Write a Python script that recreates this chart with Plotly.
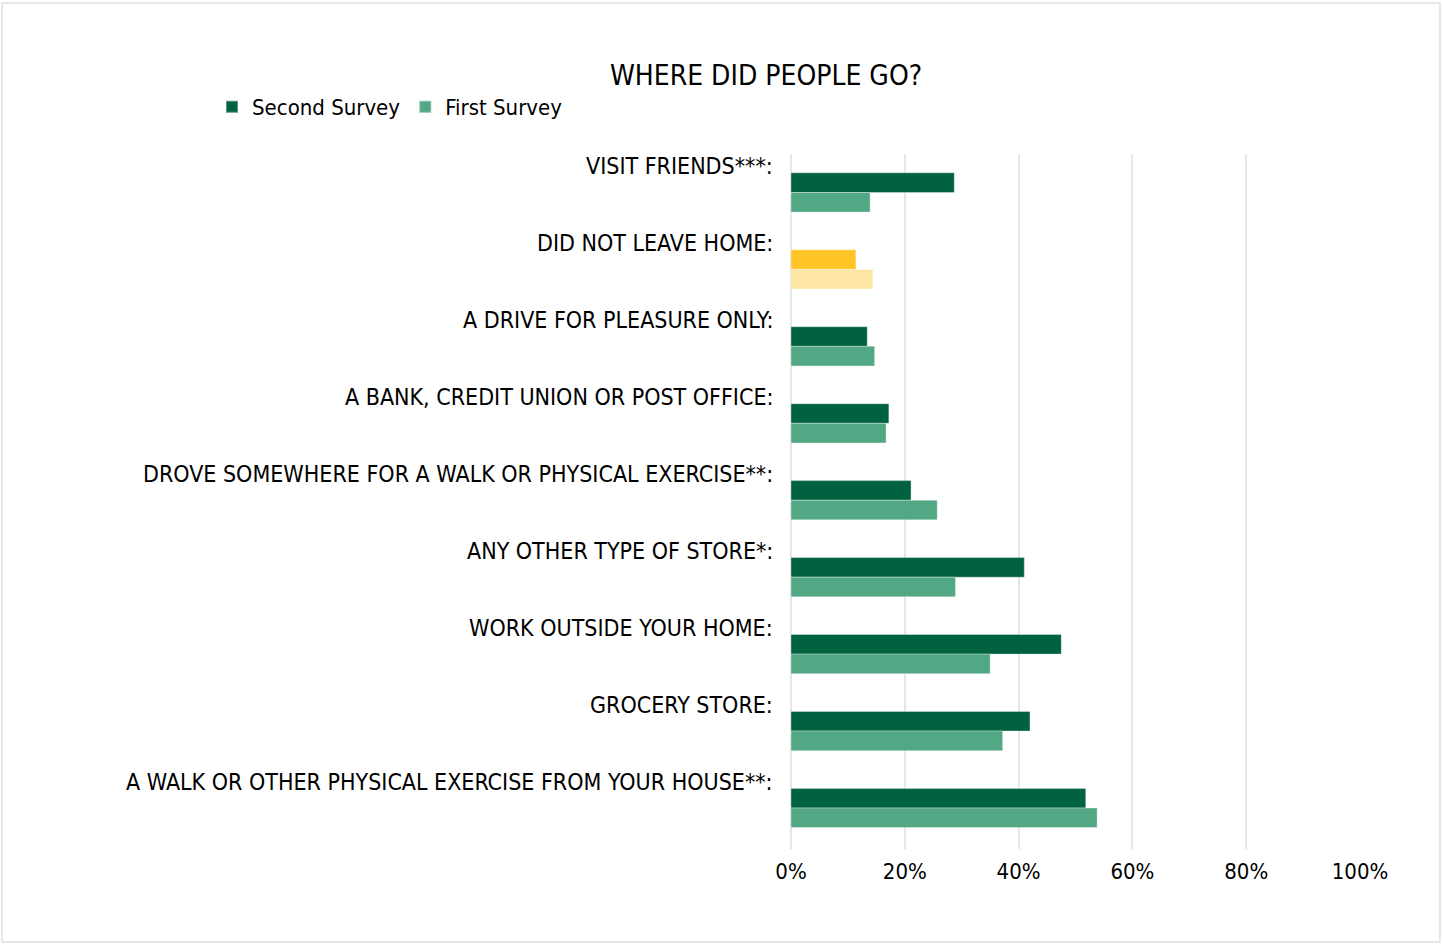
import plotly.graph_objects as go

categories = [
    "VISIT FRIENDS***:",
    "DID NOT LEAVE HOME:",
    "A DRIVE FOR PLEASURE ONLY:",
    "A BANK, CREDIT UNION OR POST OFFICE:",
    "DROVE SOMEWHERE FOR A WALK OR PHYSICAL EXERCISE**:",
    "ANY OTHER TYPE OF STORE*:",
    "WORK OUTSIDE YOUR HOME:",
    "GROCERY STORE:",
    "A WALK OR OTHER PHYSICAL EXERCISE FROM YOUR HOUSE**:",
]
second_survey = [0.287, 0.114, 0.134, 0.172, 0.211, 0.410, 0.475, 0.420, 0.518]
first_survey = [0.139, 0.144, 0.147, 0.167, 0.257, 0.289, 0.350, 0.372, 0.538]
tick_vals = [0, 0.2, 0.4, 0.6, 0.8, 1.0]
tick_text = ["0%", "20%", "40%", "60%", "80%", "100%"]

DARK = "#00623F"
LIGHT = "#52A784"
DARK_Y = "#FFC425"
LIGHT_Y = "#FFE5A5"
highlight = "DID NOT LEAVE HOME:"

dark_colors = [DARK_Y if c == highlight else DARK for c in categories]
light_colors = [LIGHT_Y if c == highlight else LIGHT for c in categories]

FONT = "DejaVu Sans Condensed, Liberation Sans Narrow, sans-serif"

fig = go.Figure()
fig.add_trace(go.Bar(
    y=categories, x=second_survey, orientation="h", name="Second Survey",
    marker=dict(color=dark_colors, line=dict(color="rgba(255,255,255,0.35)", width=1)),
))
fig.add_trace(go.Bar(
    y=categories, x=first_survey, orientation="h", name="First Survey",
    marker=dict(color=light_colors, line=dict(color="rgba(255,255,255,0.35)", width=1)),
))

annotations = []
for c in categories:
    annotations.append(dict(
        x=0, xref="paper", y=c, yref="y", text=c, showarrow=False,
        xanchor="right", yanchor="middle", xshift=-16, yshift=26,
        font=dict(family=FONT, size=23, color="#000000"),
    ))

W, H = 1442, 944
L, R, T, B = 791, 82, 154, 95

fig.update_layout(
    width=W, height=H,
    margin=dict(l=L, r=R, t=T, b=B),
    paper_bgcolor="white", plot_bgcolor="white",
    barmode="group", bargap=0.49, bargroupgap=0,
    font=dict(family=FONT, size=23, color="#000000"),
    title=dict(text="WHERE DID PEOPLE GO?", x=766 / W, xref="container", xanchor="center",
               y=1 - 75 / H, yref="container", yanchor="middle",
               font=dict(family=FONT, size=28, color="#000000")),
    legend=dict(orientation="h", xref="container", yref="container",
                x=212 / W, y=1 - 107 / H, xanchor="left", yanchor="middle",
                font=dict(family=FONT, size=22, color="#000000"),
                bgcolor="rgba(0,0,0,0)", itemsizing="constant"),
    xaxis=dict(range=[0, 1.0], tickvals=tick_vals, ticktext=tick_text,
               showgrid=True, gridcolor="#E6E6E6", gridwidth=1.5,
               zeroline=True, zerolinecolor="#E6E6E6", zerolinewidth=1.5,
               showline=False, ticks="", ticklabelstandoff=7,
               tickfont=dict(family=FONT, size=22, color="#000000"), fixedrange=True),
    yaxis=dict(autorange="reversed", showticklabels=False, showgrid=False,
               zeroline=False, showline=False, ticks="", fixedrange=True),
    annotations=annotations,
    shapes=[dict(type="rect", xref="paper", yref="paper",
                 x0=(2 - L) / (W - L - R), x1=(1440 - L) / (W - L - R),
                 y0=(H - B - 942) / (H - T - B), y1=(H - B - 3) / (H - T - B),
                 line=dict(color="#E0E0E0", width=1.5), layer="below")],
)

fig.write_html("out.html")
